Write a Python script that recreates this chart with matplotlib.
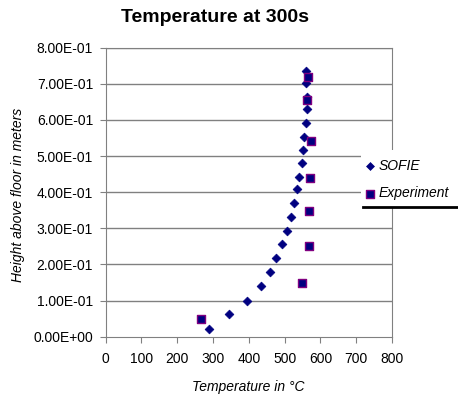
import matplotlib.pyplot as plt
from matplotlib.patches import Rectangle
from matplotlib.lines import Line2D

plt.rcParams['font.family'] = ['Liberation Sans', 'DejaVu Sans']

# SOFIE simulation
sofie_temp = [559, 559, 564, 562, 559, 554, 551, 548, 540, 534,
              526, 518, 508, 493, 477, 458, 435, 394, 346, 289]
sofie_height = [0.736, 0.701, 0.664, 0.629, 0.591, 0.554, 0.517, 0.480, 0.443, 0.408,
                0.371, 0.331, 0.293, 0.256, 0.217, 0.179, 0.141, 0.099, 0.062, 0.022]

# Experiment
exp_temp = [565, 564, 575, 570, 567, 567, 548, 266]
exp_height = [0.720, 0.655, 0.541, 0.438, 0.349, 0.251, 0.149, 0.049]

x_ticks = [0, 100, 200, 300, 400, 500, 600, 700, 800]
y_ticks = [0.0, 0.1, 0.2, 0.3, 0.4, 0.5, 0.6, 0.7, 0.8]

W, H = 458, 397
fig = plt.figure(figsize=(W / 100, H / 100), dpi=100)
ax = fig.add_axes([105.5 / W, 1 - 336.7 / H, (392 - 105.5) / W, (336.7 - 47.7) / H])

for y in y_ticks[1:]:
    ax.axhline(y, color='#808080', lw=1, zorder=1)

ax.scatter(sofie_temp, sofie_height, marker='D', s=20, color='#000080',
           edgecolors='#000080', linewidths=0.5, zorder=3, label='SOFIE')
ax.scatter(exp_temp, exp_height, marker='s', s=36, color='#000080',
           edgecolors='#800080', linewidths=1.0, zorder=3, label='Experiment')

ax.set_xlim(0, 800)
ax.set_ylim(0, 0.8)
ax.set_xticks(x_ticks)
ax.set_yticks(y_ticks)
ax.set_yticklabels(['%.2E' % v for v in y_ticks])
for s in ax.spines.values():
    s.set_color('#808080')
ax.tick_params(direction='out', length=4, color='#808080', labelsize=10)
ax.tick_params(axis='x', pad=7)
ax.tick_params(axis='y', pad=5)

ax.set_xlabel('Temperature in °C', style='italic', fontsize=10, va='center')
ax.xaxis.set_label_coords(0.497, -0.174)
ax.set_ylabel('Height above floor in meters', style='italic', fontsize=10, va='center')
ax.yaxis.set_label_coords(-0.305, 0.49)

fig.text(215 / W, 1 - 17 / H, 'Temperature at 300s', ha='center', va='center',
         fontsize=14, fontweight='bold')

# legend area: white box over the right edge, line beneath
fig.patches.append(Rectangle((361 / W, 1 - 207 / H), (W - 361) / W, 57 / H,
                             transform=fig.transFigure, facecolor='white',
                             edgecolor='none', zorder=5))
fig.lines.append(Line2D([363 / W, 1], [1 - 207 / H, 1 - 207 / H],
                        transform=fig.transFigure, color='black', lw=2, zorder=6))
leg = fig.legend(loc='upper left', bbox_to_anchor=(363 / W, 1 - 159 / H),
                 frameon=False, prop={'style': 'italic', 'size': 10},
                 handletextpad=0.1, handlelength=1.0, labelspacing=0.95,
                 borderaxespad=0, borderpad=0, markerscale=0.9)
leg.set_zorder(7)

fig.savefig('out.png', dpi=100)
